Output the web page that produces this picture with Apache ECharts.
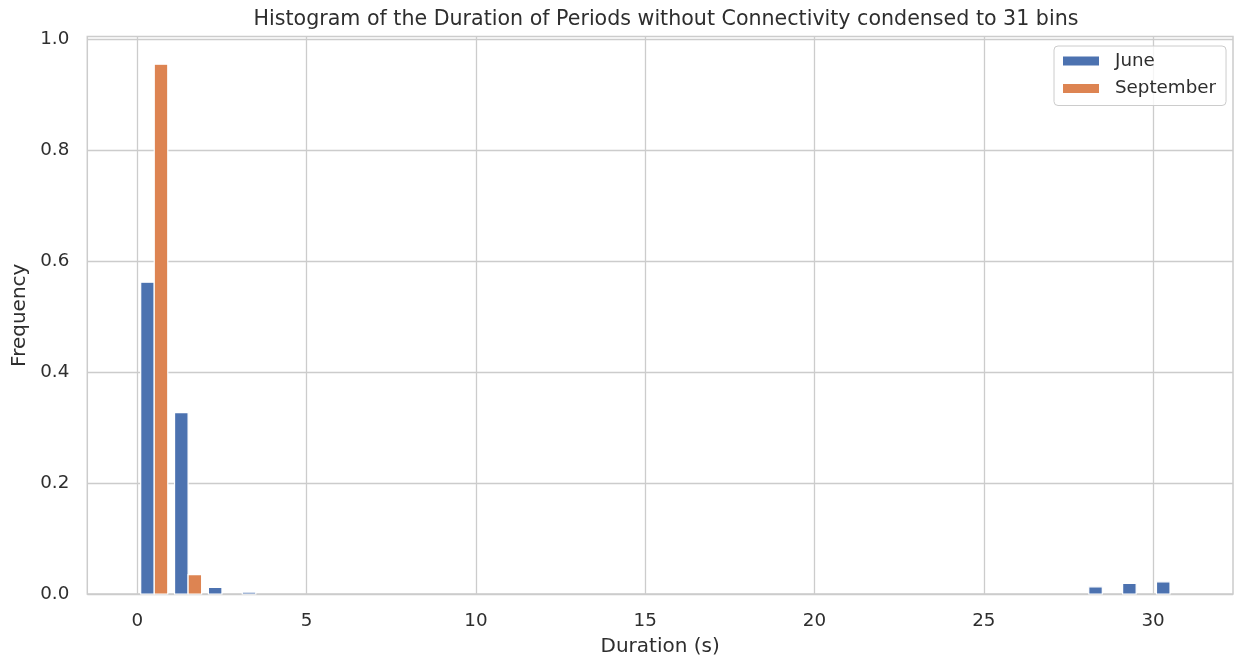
<!DOCTYPE html>
<html>
<head>
<meta charset="utf-8">
<script src="https://cdn.jsdelivr.net/npm/echarts@6/dist/echarts.min.js"></script>
<style>
  html, body { margin: 0; padding: 0; background: #ffffff; }
  #chart { width: 1236px; height: 662px; }
</style>
</head>
<body>
<div id="chart"></div>
<script>
// ---- data ----
const binEdges = [0, 1, 2, 3, 4, 5, 6, 7, 8, 9, 10, 11, 12, 13, 14, 15, 16, 17, 18, 19, 20,
                  21, 22, 23, 24, 25, 26, 27, 28, 29, 30, 31];
const juneFreq = [0.562, 0.327, 0.012, 0.0035, 0, 0, 0, 0, 0, 0, 0, 0, 0, 0, 0, 0,
                  0, 0, 0, 0, 0, 0, 0, 0, 0, 0, 0, 0, 0.013, 0.019, 0.022];
const septFreq = [0.955, 0.035, 0, 0, 0, 0, 0, 0, 0, 0, 0, 0, 0, 0, 0, 0,
                  0, 0, 0, 0, 0, 0, 0, 0, 0, 0, 0, 0, 0, 0, 0];
const seriesNames = ['June', 'September'];
const xTicks = [0, 5, 10, 15, 20, 25, 30];
const yTicks = [0, 0.2, 0.4, 0.6, 0.8, 1.0];
const titleText = 'Histogram of the Duration of Periods without Connectivity condensed to 31 bins';

// ---- build ----
function toBins(freq) {
  return freq.map((v, i) => [binEdges[i], binEdges[i + 1], v]);
}
function makeRender(startFrac, endFrac) {
  return function (params, api) {
    const x0 = api.value(0), x1 = api.value(1), y = api.value(2);
    if (!y) return null;
    const w = x1 - x0;
    const p0 = api.coord([x0 + startFrac * w, y]);
    const p1 = api.coord([x0 + endFrac * w, 0]);
    return {
      type: 'rect',
      shape: { x: p0[0], y: p0[1], width: p1[0] - p0[0], height: p1[1] - p0[1] },
      style: { fill: api.visual('color'), stroke: '#ffffff', lineWidth: 1.2 }
    };
  };
}

const FONT = 'DejaVu Sans';
const TXT = '#2e2e2e';
const GRID = '#cccccc';

const chart = echarts.init(document.getElementById('chart'), null, { renderer: 'canvas' });
chart.setOption({
  animation: false,
  backgroundColor: '#ffffff',
  color: ['#4C72B0', '#DD8452'],
  textStyle: { fontFamily: FONT },
  title: {
    text: titleText,
    left: 661,
    textAlign: 'center',
    top: 4,
    textStyle: { fontFamily: FONT, fontSize: 20.6, fontWeight: 'normal', color: TXT }
  },
  legend: {
    orient: 'vertical',
    left: 1054,
    top: 46,
    data: seriesNames,
    icon: 'rect',
    itemWidth: 36,
    itemHeight: 9,
    itemGap: 9.5,
    padding: [6, 10, 8, 9],
    borderColor: '#cccccc',
    borderWidth: 1,
    borderRadius: 4,
    backgroundColor: 'rgba(255,255,255,0.8)',
    textStyle: { fontFamily: FONT, fontSize: 18.3, color: TXT, padding: [0, 0, 0, 11] }
  },
  grid: {
    left: 87.3, right: 3, top: 36.5, bottom: 65.5,
    show: true, borderColor: GRID, borderWidth: 1.5, backgroundColor: '#ffffff'
  },
  xAxis: {
    type: 'value',
    min: -1.477,
    max: 32.36,
    name: 'Duration (s)',
    nameLocation: 'middle',
    nameGap: 43,
    nameTextStyle: { fontFamily: FONT, fontSize: 20, color: TXT },
    axisLine: { show: false },
    axisTick: { show: false, customValues: xTicks },
    axisLabel: { customValues: xTicks, margin: 18, fontFamily: FONT, fontSize: 18.3, color: TXT },
    splitLine: { show: true, lineStyle: { color: GRID, width: 1.3 } }
  },
  yAxis: {
    type: 'value',
    min: 0,
    max: 1.005,
    name: 'Frequency',
    nameLocation: 'middle',
    nameGap: 56,
    nameTextStyle: { fontFamily: FONT, fontSize: 20, color: TXT },
    axisLine: { show: false },
    axisTick: { show: false, customValues: yTicks },
    axisLabel: {
      customValues: yTicks, margin: 18, fontFamily: FONT, fontSize: 18.3, color: TXT,
      formatter: v => Number(v).toFixed(1)
    },
    splitLine: { show: true, lineStyle: { color: GRID, width: 1.3 } }
  },
  series: [
    {
      name: seriesNames[0],
      type: 'custom',
      renderItem: makeRender(0.1, 0.5),
      encode: { x: [0, 1], y: 2 },
      data: toBins(juneFreq)
    },
    {
      name: seriesNames[1],
      type: 'custom',
      renderItem: makeRender(0.5, 0.9),
      encode: { x: [0, 1], y: 2 },
      data: toBins(septFreq)
    }
  ]
});
</script>
</body>
</html>
